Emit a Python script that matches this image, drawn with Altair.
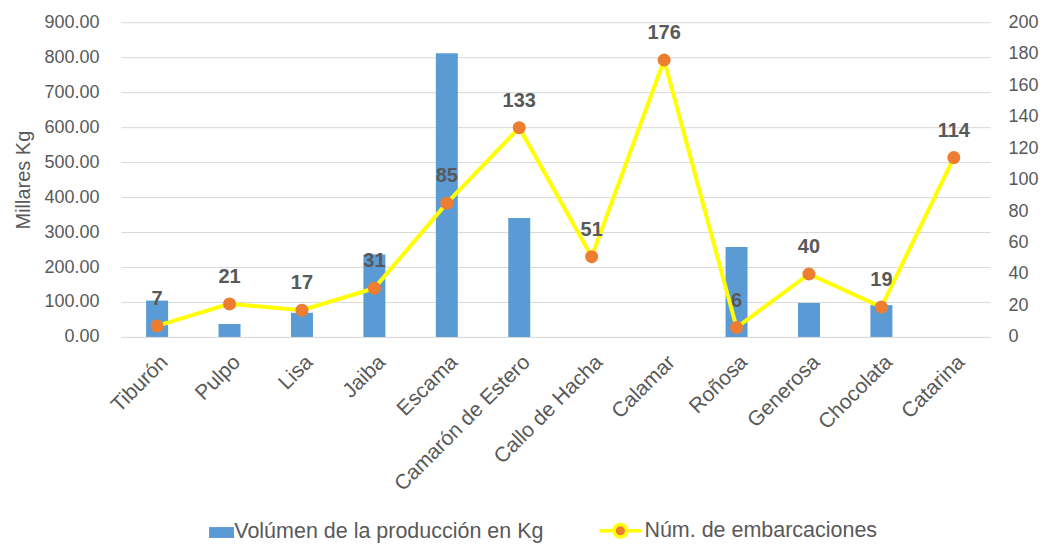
import altair as alt
import pandas as pd

categories = ["Tiburón", "Pulpo", "Lisa", "Jaiba", "Escama", "Camarón de Estero",
              "Callo de Hacha", "Calamar", "Roñosa", "Generosa", "Chocolata", "Catarina"]
volumen = [104, 37, 69, 236, 811, 340, 0, 0, 257, 97, 91, 0]
embarcaciones = [7, 21, 17, 31, 85, 133, 51, 176, 6, 40, 19, 114]

FONT = "Liberation Sans"
GRAY = "#595959"
SER1 = "Volúmen de la producción en Kg"
SER2 = "Núm. de embarcaciones"

df = pd.DataFrame({"cat": categories, "vol": volumen, "emb": embarcaciones,
                   "s1": SER1, "s2": SER2})

x = alt.X("cat:N", sort=categories, title=None,
          scale=alt.Scale(paddingInner=0.7, paddingOuter=0.35),
          axis=alt.Axis(labelAngle=-45, labelAlign="right", labelBaseline="top",
                        labelFontSize=21, labelColor=GRAY, labelFont=FONT,
                        ticks=False, domainColor="#d9d9d9", labelPadding=14,
                        labelLimit=400))

bars = alt.Chart(df).mark_bar(size=22).encode(
    x=x,
    y=alt.Y("vol:Q", scale=alt.Scale(domain=[0, 900], nice=False),
            axis=alt.Axis(values=list(range(0, 901, 100)), format=".2f",
                          title="Millares Kg", titleFontSize=20, titleFont=FONT,
                          titleColor=GRAY, titleFontWeight="normal",
                          labelFontSize=18, labelColor=GRAY, labelFont=FONT,
                          domain=False, ticks=False, gridColor="#d9d9d9",
                          labelPadding=22, titlePadding=10)),
    fill=alt.Fill("s1:N",
                  scale=alt.Scale(domain=[SER1], range=["#5B9BD5"]),
                  legend=alt.Legend(orient="none", legendX=90, legendY=500, title=None,
                                    symbolType="M-1.6,-0.7H1.6V0.7H-1.6Z",
                                    symbolSize=244, labelFontSize=21.5,
                                    labelColor=GRAY, labelFont=FONT,
                                    labelLimit=600, labelOffset=2, padding=0)),
)

line = alt.Chart(df).mark_line(strokeWidth=4).encode(
    x=x,
    y=alt.Y("emb:Q", scale=alt.Scale(domain=[0, 200], nice=False),
            axis=alt.Axis(values=list(range(0, 201, 20)), orient="right", title=None,
                          labelFontSize=18, labelColor=GRAY, labelFont=FONT,
                          domain=False, ticks=False, grid=False, labelPadding=18)),
    stroke=alt.Stroke("s2:N",
                      scale=alt.Scale(domain=[SER2], range=["#FFFF00"]),
                      legend=alt.Legend(orient="none", legendX=477, legendY=486, title=None,
                                        symbolType="M-1,0H-0.3M0.3,0H1M-0.3,0A0.3,0.3 0 1,0 0.3,0A0.3,0.3 0 1,0 -0.3,0",
                                        symbolSize=1764, symbolFillColor="#ED7D31",
                                        symbolStrokeWidth=3.5,
                                        labelFontSize=21.5, labelColor=GRAY, labelFont=FONT,
                                        labelLimit=600, labelOffset=1, padding=0)),
)
yr_noaxis = alt.Y("emb:Q", scale=alt.Scale(domain=[0, 200], nice=False), axis=None)
points = alt.Chart(df).mark_circle(size=170, color="#ED7D31", opacity=1).encode(x=x, y=yr_noaxis)
labels = alt.Chart(df).mark_text(dy=-27, fontSize=20, fontWeight="bold", color=GRAY, font=FONT).encode(
    x=x, y=yr_noaxis, text="emb:Q")

chart = alt.layer(bars, line, points, labels).resolve_scale(y="independent").properties(
    width=870, height=315,
    padding={"left": 5, "top": 5, "right": 0, "bottom": 0}
).configure_view(stroke=None)

chart.save("out.html", embed_options={"renderer": "svg", "actions": False})
